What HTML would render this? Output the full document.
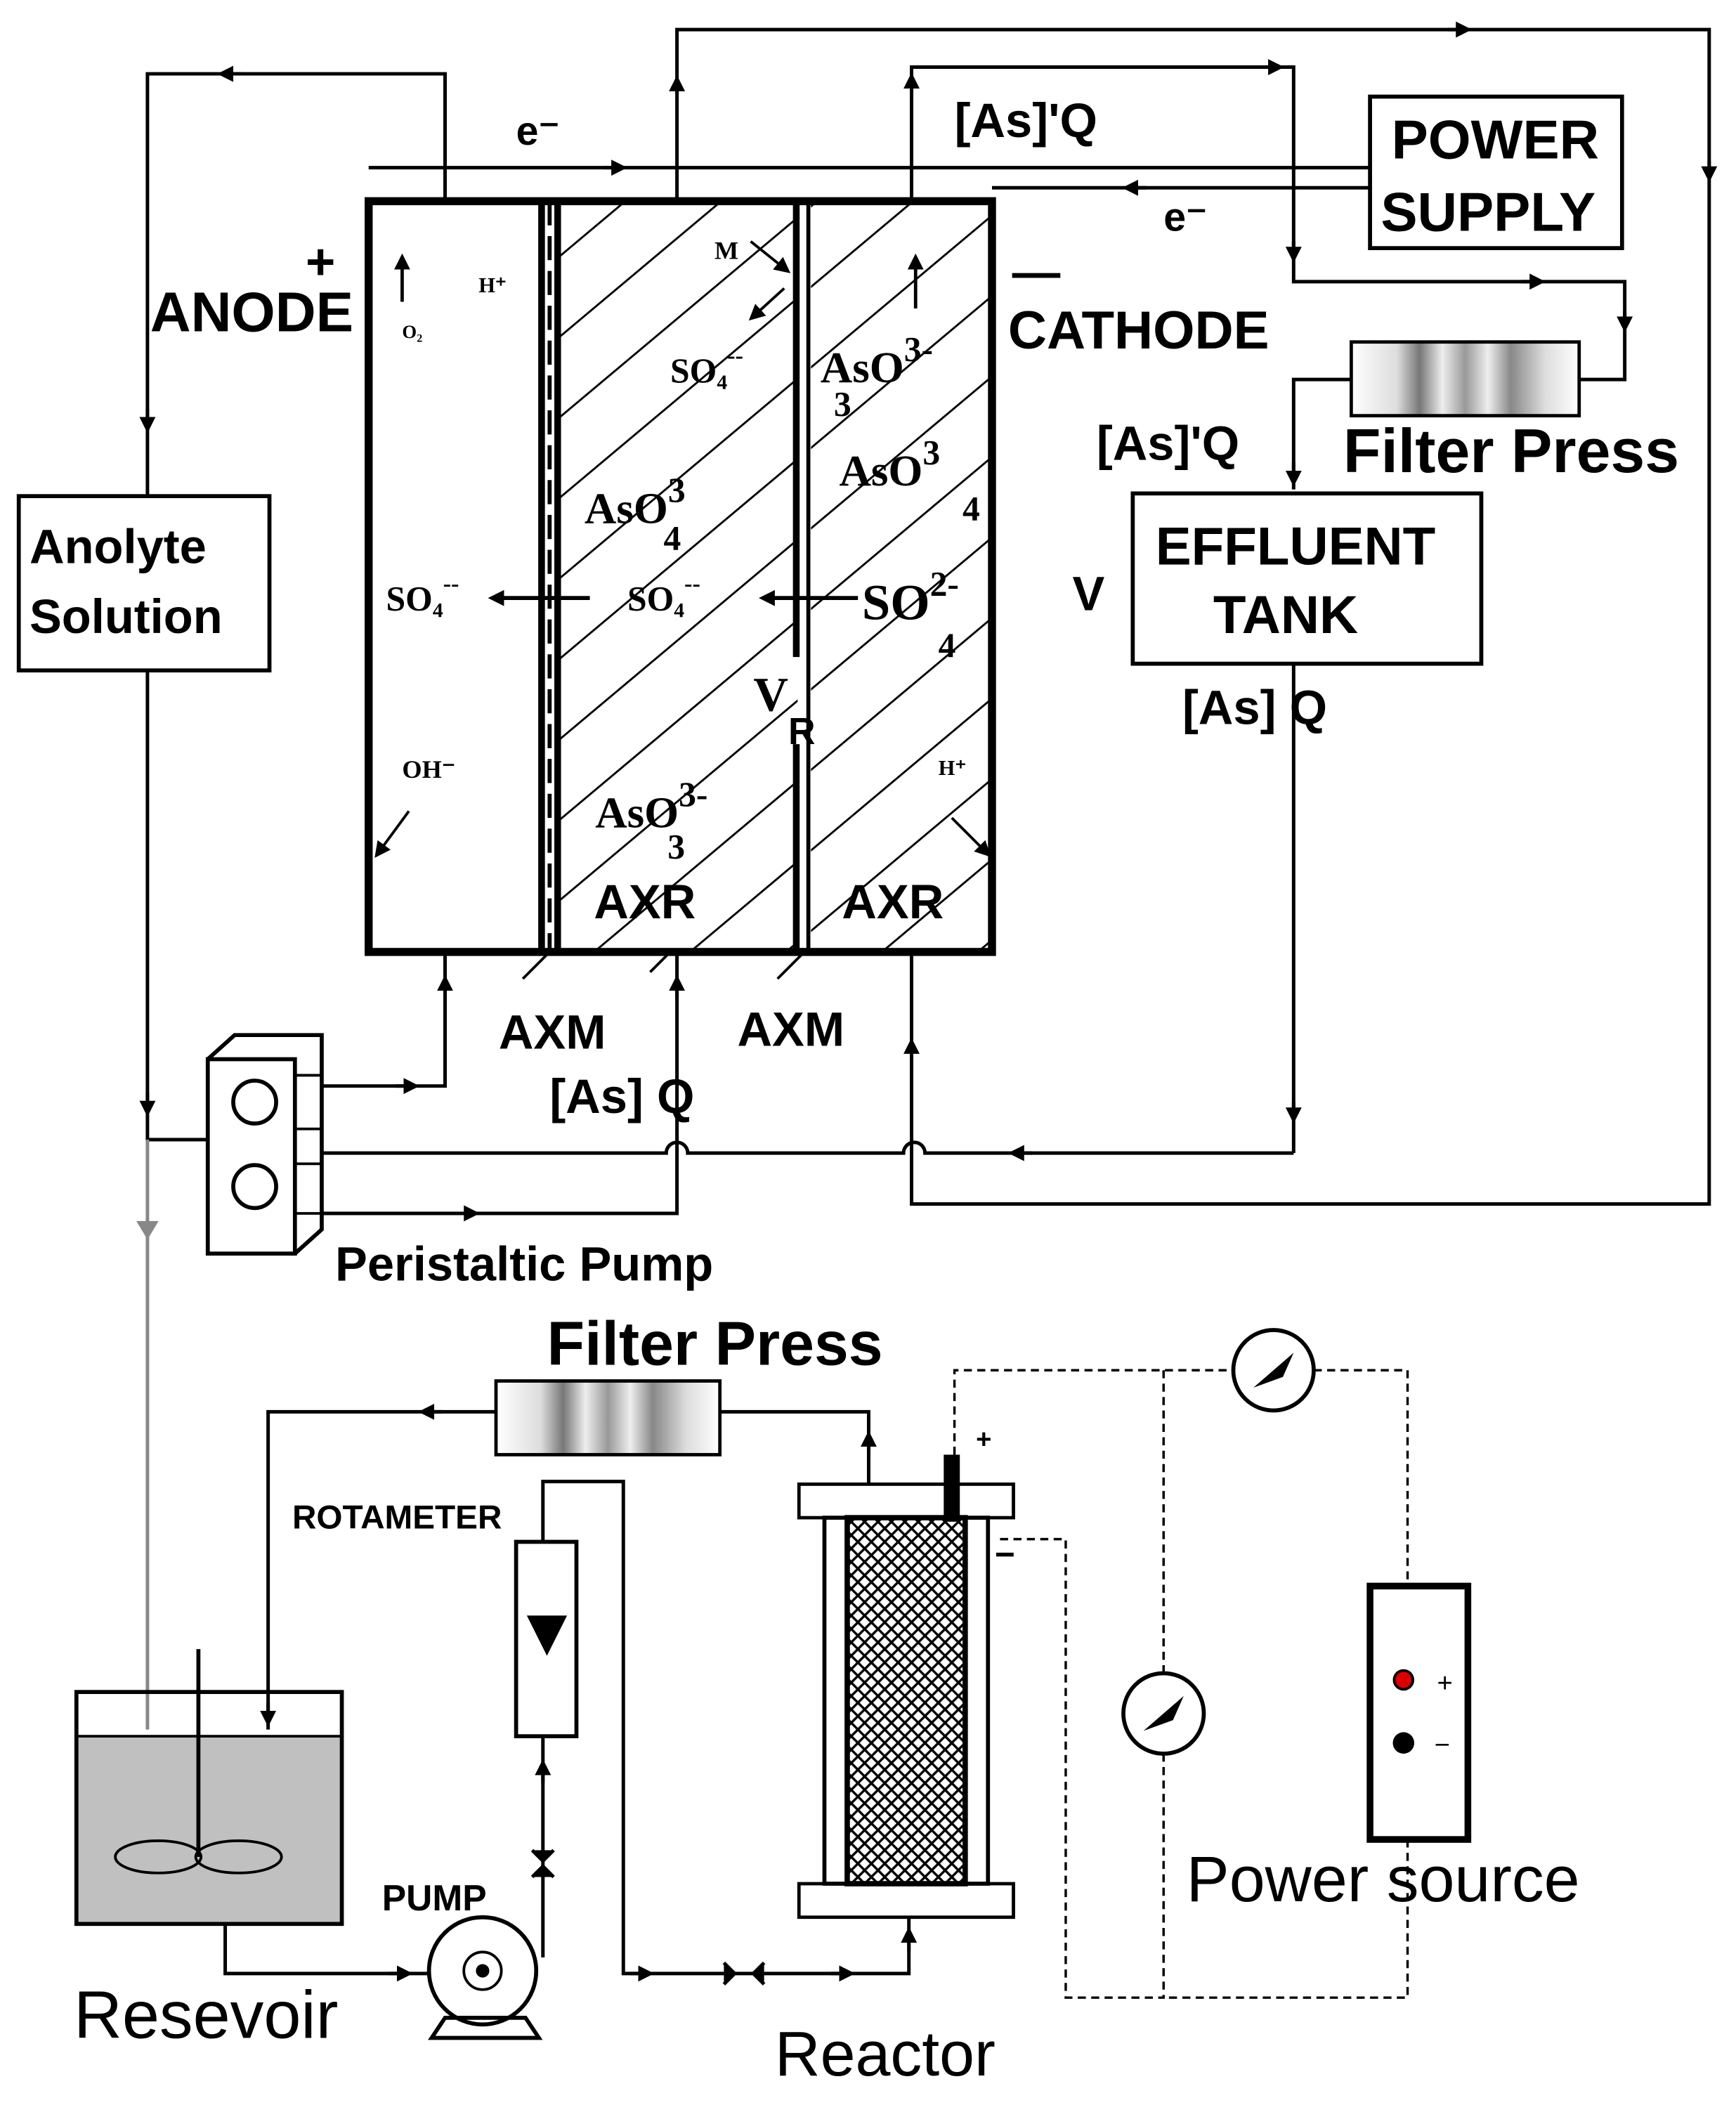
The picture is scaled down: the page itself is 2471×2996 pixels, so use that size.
<!DOCTYPE html>
<html><head><meta charset="utf-8"><style>
html,body{margin:0;padding:0;background:#fff}
svg{display:block}
text{font-family:"Liberation Sans",sans-serif;font-weight:bold;fill:#000}
.s{font-family:"Liberation Serif",serif}
</style></head><body>
<svg width="2471" height="2996" viewBox="0 0 1295 1570" xmlns="http://www.w3.org/2000/svg">
<defs>
<pattern id="h" patternUnits="userSpaceOnUse" width="46" height="46" patternTransform="rotate(50)">
<line x1="0" y1="0" x2="0" y2="46" stroke="#000" stroke-width="3"/>
</pattern>
<pattern id="x" patternUnits="userSpaceOnUse" width="10" height="10">
<path d="M0 10 L10 0 M0 0 L10 10" stroke="#000" stroke-width="1.8"/>
</pattern>
<marker id="a" markerWidth="12" markerHeight="12" refX="6" refY="6" orient="auto" markerUnits="userSpaceOnUse"><path d="M0 0 L12 6 L0 12 z" fill="#000"/></marker>
<linearGradient id="fp" x1="0" x2="1">
<stop offset="0" stop-color="#fff"/><stop offset=".2" stop-color="#ddd"/><stop offset=".3" stop-color="#777"/><stop offset=".4" stop-color="#eee"/><stop offset=".5" stop-color="#999"/><stop offset=".6" stop-color="#eee"/><stop offset=".7" stop-color="#888"/><stop offset=".85" stop-color="#ddd"/><stop offset="1" stop-color="#fff"/>
</linearGradient>
</defs>
<g fill="none" stroke="#000" stroke-width="2.6">
<path d="M505 150 V22 H1275 V898 H680 V710"/>
<path d="M1080 22 l12 0" marker-end="url(#a)"/>
<path d="M1275 120 v10" marker-end="url(#a)"/>
<path d="M505 70 v-8" marker-end="url(#a)"/>
<path d="M332 150 V55 H110 V370"/>
<path d="M180 55 h-12" marker-end="url(#a)"/>
<path d="M110 305 v12" marker-end="url(#a)"/>
<path d="M275 125 H1022"/>
<path d="M450 125 h12" marker-end="url(#a)"/>
<path d="M740 140 H1022"/>
<path d="M855 140 h-12" marker-end="url(#a)"/>
<path d="M680 150 V50 H965 V210 H1212 V283 H1178"/>
<path d="M680 70 v-10" marker-end="url(#a)"/>
<path d="M940 50 h12" marker-end="url(#a)"/>
<path d="M965 180 v10" marker-end="url(#a)"/>
<path d="M1135 210 h12" marker-end="url(#a)"/>
<path d="M1212 232 v10" marker-end="url(#a)"/>
<path d="M1008 283 H965 V365"/>
<path d="M965 345 v12" marker-end="url(#a)"/>
<path d="M965 495 V860"/>
<path d="M965 822 v10" marker-end="url(#a)"/>
<path d="M965 860 H690 a8 8 0 0 0 -16 0 H513 a8 8 0 0 0 -16 0 H240"/>
<path d="M770 860 h-12" marker-end="url(#a)"/>
<path d="M110 500 V850 H155"/>
<path d="M110 815 v12" marker-end="url(#a)"/>
<path d="M240 810 H332 V710"/>
<path d="M295 810 h12" marker-end="url(#a)"/>
<path d="M332 745 v-12" marker-end="url(#a)"/>
<path d="M240 905 H505 V710"/>
<path d="M340 905 h12" marker-end="url(#a)"/>
<path d="M505 745 v-12" marker-end="url(#a)"/>
<path d="M680 800 v-20" marker-end="url(#a)"/>
<path d="M110 850 V1290" stroke="#888"/>
<path d="M104 912 h12 l-6 10 z" fill="#888" stroke="#888"/>
<rect x="1022" y="72" width="188" height="113" stroke-width="3"/>
<rect x="14" y="370" width="187" height="130" stroke-width="3"/>
<rect x="845" y="368" width="260" height="127" stroke-width="3"/>
</g>
<rect x="1008" y="255" width="170" height="55" fill="url(#fp)" stroke="#000" stroke-width="2.5"/>
<rect x="418" y="150" width="177" height="560" fill="url(#h)"/>
<rect x="605" y="150" width="135" height="560" fill="url(#h)"/>
<g fill="none" stroke="#000">
<rect x="275" y="150" width="465" height="560" stroke-width="6"/>
<line x1="404" y1="150" x2="404" y2="710" stroke-width="5"/>
<line x1="416" y1="150" x2="416" y2="710" stroke-width="5"/>
<line x1="410" y1="150" x2="410" y2="710" stroke-width="3" stroke-dasharray="18 8"/>
<line x1="594" y1="150" x2="594" y2="490" stroke-width="5"/>
<line x1="594" y1="555" x2="594" y2="710" stroke-width="5"/>
<line x1="603" y1="150" x2="603" y2="710" stroke-width="3"/>
<path d="M300 225 v-30" stroke-width="2.5" marker-end="url(#a)"/>
<path d="M440 446 H370" stroke-width="3" marker-end="url(#a)"/>
<path d="M640 446 H572" stroke-width="3" marker-end="url(#a)"/>
<path d="M683 230 v-35" stroke-width="2.5" marker-end="url(#a)"/>
<path d="M560 180 l25 20" stroke-width="2" marker-end="url(#a)"/>
<path d="M585 215 l-22 20" stroke-width="2" marker-end="url(#a)"/>
<path d="M305 605 l-22 30" stroke-width="2" marker-end="url(#a)"/>
<path d="M710 610 l25 25" stroke-width="2" marker-end="url(#a)"/>
<path d="M410 710 l-20 20 M500 710 l-15 15 M600 710 l-20 20" stroke-width="2"/>
</g>
<g fill="#fff" stroke="#000" stroke-width="3">
<path d="M155 790 l20 -18 h65 l0 145 l-20 18"/>
<rect x="155" y="790" width="65" height="145"/>
<circle cx="190" cy="822" r="16"/><circle cx="190" cy="885" r="16"/>
</g>
<path d="M220 802 H240 M220 842 H240 M220 868 H240 M220 905 H240" stroke="#000" stroke-width="2"/>
<text x="385" y="108" font-size="30">e⁻</text>
<text x="868" y="172" font-size="30">e⁻</text>
<text x="712" y="102" font-size="36">[As]'Q</text>
<text x="1038" y="118" font-size="41">POWER</text>
<text x="1030" y="172" font-size="41">SUPPLY</text>
<text x="228" y="208" font-size="38">+</text>
<text x="112" y="247" font-size="42">ANODE</text>
<text x="755" y="215" font-size="36">—</text>
<text x="752" y="260" font-size="40">CATHODE</text>
<text x="1002" y="352" font-size="46">Filter Press</text>
<text x="818" y="343" font-size="36">[As]'Q</text>
<text x="22" y="420" font-size="36">Anolyte</text>
<text x="22" y="472" font-size="36">Solution</text>
<text x="862" y="421" font-size="40">EFFLUENT</text>
<text x="905" y="472" font-size="40">TANK</text>
<text x="800" y="455" font-size="36">V</text>
<text x="882" y="540" font-size="36">[As]  Q</text>
<g class="s">
<text x="300" y="252" font-size="14" class="s">O₂</text>
<text x="357" y="218" font-size="16" class="s">H⁺</text>
<text x="533" y="193" font-size="19" class="s">M</text>
<text x="500" y="285" font-size="26" class="s">SO₄<tspan dy="-14" font-size="18">--</tspan></text>
<text x="612" y="285" font-size="33" class="s">AsO<tspan dy="-16" font-size="26">3-</tspan></text>
<text x="622" y="310" font-size="26" class="s">3</text>
<text x="436" y="390" font-size="33" class="s">AsO<tspan dy="-16" font-size="26">3</tspan></text>
<text x="495" y="410" font-size="26" class="s">4</text>
<text x="626" y="362" font-size="33" class="s">AsO<tspan dy="-16" font-size="26">3</tspan></text>
<text x="718" y="388" font-size="26" class="s">4</text>
<text x="288" y="455" font-size="26" class="s">SO₄<tspan dy="-14" font-size="18">--</tspan></text>
<text x="468" y="455" font-size="26" class="s">SO₄<tspan dy="-14" font-size="18">--</tspan></text>
<text x="643" y="462" font-size="38" class="s">SO<tspan dy="-18" font-size="26">2-</tspan></text>
<text x="700" y="490" font-size="26" class="s">4</text>
<text x="562" y="530" font-size="36" class="s">V</text>
<text x="588" y="555" font-size="28">R</text>
<text x="300" y="580" font-size="19" class="s">OH⁻</text>
<text x="700" y="578" font-size="16" class="s">H⁺</text>
<text x="444" y="617" font-size="33" class="s">AsO<tspan dy="-16" font-size="26">3-</tspan></text>
<text x="498" y="640" font-size="26" class="s">3</text>
</g>
<text x="443" y="685" font-size="36">AXR</text>
<text x="628" y="685" font-size="36">AXR</text>
<text x="372" y="782" font-size="36">AXM</text>
<text x="550" y="780" font-size="36">AXM</text>
<text x="410" y="830" font-size="36">[As]  Q</text>
<text x="250" y="955" font-size="36">Peristaltic Pump</text>
<text x="408" y="1018" font-size="46">Filter Press</text>
<rect x="370" y="1030" width="167" height="55" fill="url(#fp)" stroke="#000" stroke-width="2.5"/>
<g fill="none" stroke="#000" stroke-width="2.6">
<path d="M370 1053 H200 V1290"/>
<path d="M330 1053 h-12" marker-end="url(#a)"/>
<path d="M200 1270 v12" marker-end="url(#a)"/>
<path d="M537 1053 H648 V1107"/>
<path d="M648 1085 v-12" marker-end="url(#a)"/>
<path d="M168 1435 V1472 H320"/>
<path d="M290 1472 h12" marker-end="url(#a)"/>
<path d="M405 1460 V1295"/>
<path d="M405 1150 V1105 H465 V1472 H678 V1430"/>
<path d="M405 1330 v-12" marker-end="url(#a)"/>
<path d="M470 1472 h12" marker-end="url(#a)"/>
<path d="M620 1472 h12" marker-end="url(#a)"/>
<path d="M678 1455 v-12" marker-end="url(#a)"/>
<path d="M540 1464 l8 8 l-8 8 M570 1464 l-8 8 l8 8" fill="#000"/>
<path d="M397 1380 l8 8 l8 -8 M397 1400 l8 -8 l8 8" fill="#000"/>
</g>
<rect x="57" y="1295" width="198" height="140" fill="#c0c0c0"/>
<rect x="57" y="1262" width="198" height="173" fill="none" stroke="#000" stroke-width="3"/>
<line x1="57" y1="1295" x2="255" y2="1295" stroke="#000" stroke-width="2"/>
<ellipse cx="118" cy="1385" rx="32" ry="12" fill="none" stroke="#000" stroke-width="2"/>
<ellipse cx="178" cy="1385" rx="32" ry="12" fill="none" stroke="#000" stroke-width="2"/>
<line x1="148" y1="1230" x2="148" y2="1385" stroke="#000" stroke-width="3"/>
<text x="55" y="1520" font-size="50" style="font-weight:normal">Resevoir</text>
<circle cx="360" cy="1470" r="40" fill="#fff" stroke="#000" stroke-width="3"/>
<circle cx="360" cy="1470" r="14" fill="none" stroke="#000" stroke-width="2"/>
<circle cx="360" cy="1470" r="5" fill="#000"/>
<path d="M322 1520 h80 l-10 -15 h-60 z" fill="none" stroke="#000" stroke-width="3"/>
<text x="285" y="1425" font-size="27">PUMP</text>
<rect x="385" y="1150" width="45" height="145" fill="#fff" stroke="#000" stroke-width="3"/>
<path d="M393 1205 h30 l-15 30 z" fill="#000"/>
<text x="218" y="1140" font-size="25">ROTAMETER</text>
<rect x="596" y="1107" width="160" height="25" fill="#fff" stroke="#000" stroke-width="2.5"/>
<rect x="596" y="1405" width="160" height="25" fill="#fff" stroke="#000" stroke-width="2.5"/>
<rect x="615" y="1132" width="122" height="273" fill="none" stroke="#000" stroke-width="3"/>
<rect x="632" y="1132" width="88" height="273" fill="url(#x)" stroke="#000" stroke-width="4"/>
<rect x="704" y="1085" width="12" height="50" fill="#000"/>
<text x="728" y="1080" font-size="20">+</text>
<text x="742" y="1168" font-size="26">−</text>
<text x="578" y="1548" font-size="47" style="font-weight:normal">Reactor</text>
<g fill="none" stroke="#000" stroke-width="1.8" stroke-dasharray="6 4">
<path d="M712 1085 V1022 H920 M980 1022 H1050 V1183"/>
<path d="M868 1022 V1248 M868 1308 V1490 H795 V1148 H745"/>
<path d="M1050 1372 V1490 H868"/>
</g>
<circle cx="950" cy="1022" r="30" fill="#fff" stroke="#000" stroke-width="3"/>
<path d="M935 1035 l30 -26 l-8 18 z" fill="#000"/>
<circle cx="868" cy="1278" r="30" fill="#fff" stroke="#000" stroke-width="3"/>
<path d="M853 1291 l30 -26 l-8 18 z" fill="#000"/>
<rect x="1022" y="1183" width="73" height="189" fill="#fff" stroke="#000" stroke-width="5"/>
<circle cx="1047" cy="1253" r="7" fill="#d00" stroke="#000" stroke-width="2"/>
<circle cx="1047" cy="1300" r="8" fill="#000"/>
<text x="1072" y="1262" font-size="20" style="font-weight:normal">+</text>
<text x="1070" y="1308" font-size="20" style="font-weight:normal">−</text>
<text x="885" y="1418" font-size="48" style="font-weight:normal">Power source</text>
</svg>
</body></html>
